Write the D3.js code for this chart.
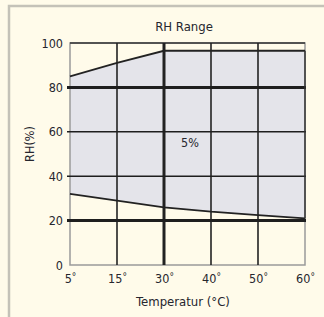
<!DOCTYPE html>
<html><head><meta charset="utf-8">
<script src="https://cdn.jsdelivr.net/npm/d3@7"></script>
<style>
html,body{margin:0;padding:0;background:#fffbea;}
svg{display:block;}
text{font-family:"DejaVu Sans Condensed","Liberation Sans Narrow",sans-serif;fill:#26262e;}
</style></head><body>
<svg id="c" width="324" height="317"></svg>
<script>
const categories = ["5","15","30","40","50","60"];
const upperRH = [85, 91, 96.5, 96.5, 96.5, 96.5];
const lowerRH = [32, 29, 26, 24, 22.5, 21];
const yTicks = [0, 20, 40, 60, 80, 100];
const boldY = [20, 80];
const boldX = ["30"];
const title = "RH Range";
const xTitle = "Temperatur (°C)";
const yTitle = "RH(%)";
const note = "5%";

const svg = d3.select("#c");
// outer frame
svg.append("path").attr("d","M9,317 V6 H324").attr("fill","none").attr("stroke","#c4c2b8").attr("stroke-width",2.5);

const x = d3.scalePoint().domain(categories).range([70, 305]);
const y = d3.scaleLinear().domain([0, 100]).range([265, 43]);

// area
const data = categories.map((c,i)=>({c, u:upperRH[i], l:lowerRH[i]}));
svg.append("path").datum(data)
  .attr("d", d3.area().x(d=>x(d.c)).y0(d=>y(d.l)).y1(d=>y(d.u)))
  .attr("fill","#e4e4ea");

// plot border (gray)
svg.append("rect").attr("x",x(categories[0])).attr("y",y(100))
  .attr("width",x(categories[5])-x(categories[0])).attr("height",y(0)-y(100))
  .attr("fill","none").attr("stroke","#9a9a9a").attr("stroke-width",1.5);
// top border darker
svg.append("line").attr("x1",x(categories[0])).attr("x2",x(categories[5]))
  .attr("y1",y(100)).attr("y2",y(100)).attr("stroke","#333").attr("stroke-width",1.5);

// vertical grid
categories.slice(1,5).forEach(c=>{
  svg.append("line").attr("x1",x(c)).attr("x2",x(c)).attr("y1",y(100)).attr("y2",y(0))
    .attr("stroke", "#222").attr("stroke-width", boldX.includes(c)?3:1.6);
});
// horizontal grid
[20,40,60,80].forEach(v=>{
  svg.append("line").attr("x1",x(categories[0])-3).attr("x2",x(categories[5])+1)
    .attr("y1",y(v)).attr("y2",y(v))
    .attr("stroke","#1e1e1e").attr("stroke-width", boldY.includes(v)?3:1.6);
});

// boundary lines
svg.append("path").datum(data)
  .attr("d", d3.line().x(d=>x(d.c)).y(d=>y(d.u)))
  .attr("fill","none").attr("stroke","#222").attr("stroke-width",1.8);
svg.append("path").datum(data)
  .attr("d", d3.line().x(d=>x(d.c)).y(d=>y(d.l)))
  .attr("fill","none").attr("stroke","#222").attr("stroke-width",1.8);
// right edge of region
svg.append("line").attr("x1",x(categories[5])).attr("x2",x(categories[5]))
  .attr("y1",y(upperRH[5])).attr("y2",y(lowerRH[5])).attr("stroke","#333").attr("stroke-width",1.5);

// y axis labels
const yAxis = d3.axisLeft(y).tickValues(yTicks).tickSize(0).tickPadding(7);
const yg = svg.append("g").attr("transform",`translate(${x(categories[0])},0)`).call(yAxis);
yg.select(".domain").remove();
yg.selectAll("text").attr("font-size",12.5).attr("font-family",null).attr("fill","#26262e");

// x axis labels
const xAxis = d3.axisBottom(x).tickSize(0).tickPadding(9).tickFormat(d=>d);
const xg = svg.append("g").attr("transform",`translate(0,${y(0)})`).call(xAxis);
xg.select(".domain").remove();
xg.selectAll("text").attr("font-size",12.5).attr("font-family",null).attr("fill","#26262e")
  .each(function(d){
    const t = d3.select(this); t.text(null);
    t.append("tspan").text(d);
    t.append("tspan").text("°").attr("font-size",10).attr("dy","-0.3em");
  });

svg.append("text").attr("x",184).attr("y",31).attr("text-anchor","middle").attr("font-size",13).text(title);
svg.append("text").attr("x",183).attr("y",306).attr("text-anchor","middle").attr("font-size",13).text(xTitle);
svg.append("text").attr("transform","translate(34,144) rotate(-90)").attr("text-anchor","middle").attr("font-size",12.5).text(yTitle);
svg.append("text").attr("x",190).attr("y",147).attr("text-anchor","middle").attr("font-size",12.5).text(note);
</script></body></html>
